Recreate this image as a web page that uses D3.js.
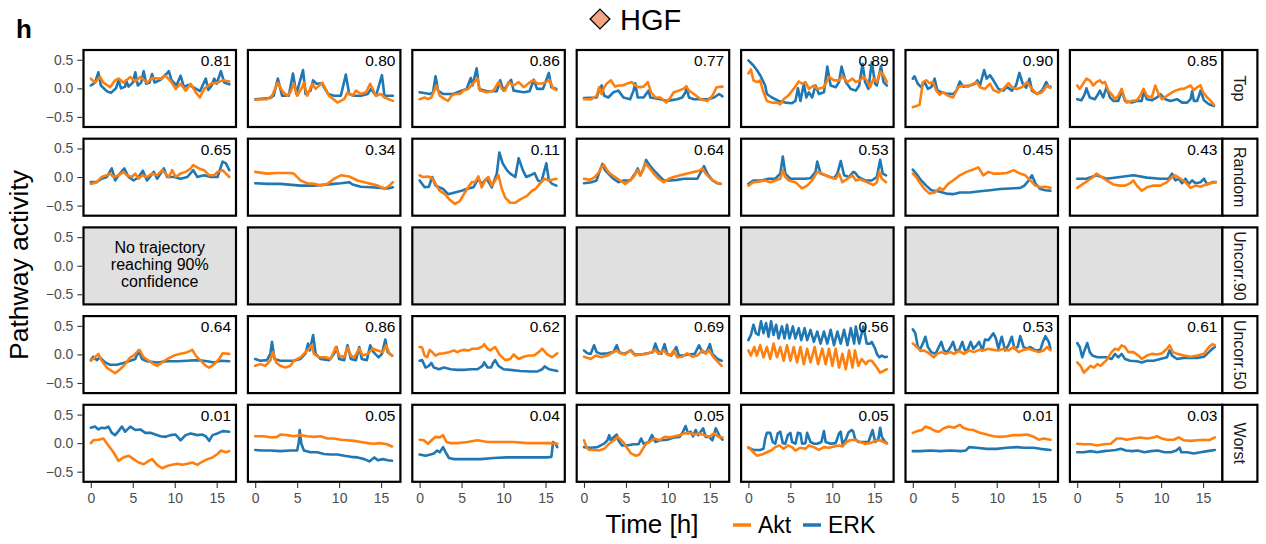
<!DOCTYPE html>
<html><head><meta charset="utf-8">
<script src="https://cdn.jsdelivr.net/npm/d3@7"></script>
<style>body{margin:0;background:#fff}</style>
</head><body><svg id="c" width="1266" height="544"></svg>
<script>
// ---------- data ----------
const rowLabels = ["Top","Random","Uncorr.90","Uncorr.50","Worst"];
const corrTop = ["0.81","0.80","0.86","0.77","0.89","0.90","0.85"];
const corrRandom = ["0.65","0.34","0.11","0.64","0.53","0.45","0.43"];
const corrUncorr50 = ["0.64","0.86","0.62","0.69","0.56","0.53","0.61"];
const corrWorst = ["0.01","0.05","0.04","0.05","0.05","0.01","0.03"];
const xTicks = [0,5,10,15];
const yTicks = [-0.5,0,0.5];
const emptyNote = ["No trajectory","reaching 90%","confidence"];

// [time (h), activity]
const top_erk = [
 [[0,0.05],[0.5,0.1],[0.9,0.28],[1.2,0.05],[1.9,-0.05],[2.4,-0.08],[3.0,0.0],[3.3,0.14],[3.6,0.0],[4.1,0.03],[4.2,0.14],[4.5,0.03],[5.0,0.1],[5.3,0.28],[5.6,0.05],[6.0,0.1],[6.3,0.3],[6.6,0.08],[7.0,0.1],[7.3,0.25],[7.6,0.1],[8.3,0.15],[9.0,0.25],[9.3,0.3],[9.6,0.15],[10.2,0.05],[10.7,0.22],[11.1,0.02],[11.6,0.06],[12.2,0.02],[13.0,-0.05],[13.7,0.17],[14.0,-0.03],[14.4,0.05],[14.7,0.17],[15.0,0.08],[15.5,0.3],[15.9,0.1],[16.5,0.07]],
 [[0,-0.19],[1.8,-0.17],[2.2,-0.13],[2.7,0.17],[3.2,-0.13],[4.0,-0.13],[4.5,0.26],[4.9,-0.1],[5.7,0.32],[6.0,-0.1],[6.6,-0.04],[6.9,0.14],[7.3,0.08],[7.9,0.09],[8.7,-0.1],[9.4,-0.13],[10.2,-0.13],[10.8,0.24],[11.2,-0.1],[11.8,-0.13],[12.6,-0.13],[13.4,-0.1],[13.8,-0.01],[14.4,-0.13],[15.1,0.23],[15.4,-0.13],[16.4,-0.13]],
 [[0,-0.07],[1.2,-0.1],[1.6,-0.07],[1.9,0.21],[2.2,-0.04],[2.8,-0.1],[4.0,-0.1],[5.0,-0.04],[5.6,-0.01],[6.1,0.18],[6.3,0.05],[6.8,0.35],[7.1,-0.01],[8.0,-0.05],[9.2,-0.05],[9.6,0.14],[10.0,-0.04],[10.9,0.15],[11.2,-0.04],[12.4,-0.07],[13.1,-0.05],[13.6,0.15],[14.0,-0.01],[14.7,-0.01],[15.4,0.27],[15.7,0.02],[16.3,-0.01]],
 [[0,-0.17],[1.5,-0.16],[1.8,-0.04],[2.1,0.05],[2.4,-0.13],[2.9,-0.16],[3.5,-0.07],[4.1,-0.04],[4.7,-0.16],[5.5,-0.19],[5.9,-0.04],[6.1,0.09],[6.4,-0.16],[7.1,-0.16],[7.7,-0.04],[7.9,-0.16],[9.1,-0.19],[9.9,-0.22],[11.1,-0.19],[11.7,-0.16],[12.1,-0.07],[12.2,0.03],[12.5,-0.16],[13.1,-0.19],[13.9,-0.19],[14.7,-0.19],[15.5,-0.16],[16.1,-0.1],[16.5,-0.14]],
 [[0,0.49],[0.6,0.4],[1.0,0.32],[1.4,0.23],[1.6,0.17],[2.0,0.05],[2.2,-0.1],[2.8,-0.16],[3.6,-0.22],[4.4,-0.25],[5.2,-0.26],[5.6,-0.22],[5.9,0.0],[6.2,-0.22],[6.6,0.08],[6.9,-0.16],[7.2,-0.07],[7.6,-0.16],[8.0,0.05],[8.4,-0.1],[9.0,-0.07],[9.4,0.38],[9.8,0.05],[10.4,0.02],[10.8,0.11],[11.1,0.38],[11.6,0.11],[12.2,-0.01],[12.8,-0.04],[13.2,0.05],[13.6,0.43],[13.9,0.11],[14.3,-0.01],[14.7,0.46],[15.1,0.08],[15.3,0.05],[15.8,0.39],[16.1,0.11],[16.5,0.05]],
 [[0,0.17],[0.2,0.21],[0.6,0.08],[1.0,0.02],[1.4,0.11],[1.8,-0.01],[2.2,0.02],[2.6,0.17],[2.9,-0.03],[3.4,-0.07],[4.0,-0.09],[4.8,-0.1],[5.2,-0.04],[5.6,0.12],[6.0,0.03],[6.8,0.05],[7.4,0.08],[7.7,0.14],[8.0,0.05],[8.5,0.32],[8.8,0.17],[9.2,0.23],[9.6,0.14],[10.2,-0.01],[10.8,-0.04],[11.2,0.03],[11.8,-0.04],[12.3,0.05],[12.7,0.27],[13.1,0.08],[13.5,0.01],[13.9,0.17],[14.2,-0.04],[14.8,-0.1],[15.4,-0.04],[15.9,0.11],[16.2,0.02],[16.4,0.03]],
 [[0,-0.19],[0.5,-0.21],[0.9,-0.1],[1.1,0.0],[1.5,-0.16],[2.1,-0.19],[2.5,-0.1],[2.7,-0.04],[3.1,-0.16],[3.5,0.02],[3.9,-0.16],[4.3,-0.22],[4.9,-0.22],[5.3,-0.04],[5.7,-0.22],[6.5,-0.25],[7.1,-0.22],[7.7,-0.22],[7.9,-0.05],[8.3,-0.19],[8.9,-0.21],[9.5,-0.16],[9.9,-0.1],[10.5,-0.19],[11.1,-0.22],[11.9,-0.19],[12.5,-0.25],[13.1,-0.25],[13.5,-0.19],[13.7,-0.05],[13.9,-0.22],[14.3,-0.22],[14.7,-0.04],[15.1,-0.21],[15.7,-0.28],[16.3,-0.31]]
];
const top_akt = [
 [[0,0.17],[0.5,0.1],[1.1,0.2],[1.5,0.1],[2.3,0.02],[2.9,0.14],[3.3,0.17],[3.9,0.1],[4.7,0.2],[5.3,0.12],[5.9,0.2],[6.7,0.1],[7.3,0.18],[8.3,0.17],[8.9,0.22],[9.5,0.13],[10.1,-0.01],[10.7,0.08],[11.3,-0.04],[11.9,0.08],[12.5,-0.07],[13.0,-0.16],[13.5,-0.01],[14.3,0.08],[15.1,0.1],[15.7,0.14],[16.5,0.12]],
 [[0,-0.2],[1.4,-0.19],[2.0,-0.13],[2.4,0.0],[2.7,0.1],[3.2,-0.04],[3.8,-0.13],[4.2,-0.07],[4.6,0.08],[5.0,-0.13],[5.6,0.02],[5.8,0.1],[6.2,-0.13],[6.8,0.08],[7.2,-0.01],[8.0,0.1],[8.8,-0.13],[9.8,-0.25],[10.6,-0.19],[11.0,-0.07],[11.6,-0.13],[12.0,-0.04],[12.6,-0.1],[13.2,-0.07],[13.7,0.08],[14.4,-0.13],[15.0,-0.1],[15.4,-0.16],[16.4,-0.22]],
 [[0,-0.19],[0.6,-0.16],[1.0,-0.19],[1.4,-0.16],[2.0,0.05],[2.4,-0.13],[3.0,-0.19],[3.4,-0.22],[3.8,-0.13],[4.2,-0.1],[4.8,-0.1],[5.2,-0.04],[5.8,-0.01],[6.4,0.09],[6.9,0.17],[7.2,-0.04],[8.0,-0.07],[8.8,-0.04],[9.4,0.11],[9.8,-0.01],[10.2,-0.04],[10.6,0.11],[11.2,0.05],[11.8,0.11],[12.4,0.02],[13.0,0.09],[13.5,0.14],[14.1,0.08],[14.7,0.09],[15.5,0.14],[15.9,0.0],[16.3,-0.03]],
 [[0,-0.19],[0.9,-0.19],[1.5,-0.13],[1.8,0.02],[2.1,-0.1],[2.4,0.02],[2.7,0.08],[3.2,0.14],[3.7,0.03],[4.1,0.05],[4.6,0.05],[5.1,0.08],[5.7,0.11],[6.1,0.05],[6.5,0.02],[7.1,0.03],[7.6,0.11],[8.0,-0.07],[8.5,-0.16],[9.1,-0.16],[9.8,-0.25],[10.3,-0.16],[10.7,-0.07],[11.3,-0.04],[11.8,-0.01],[12.2,0.03],[12.5,-0.04],[13.1,-0.1],[13.9,-0.19],[14.7,-0.22],[15.3,-0.13],[15.8,0.02],[16.5,0.03]],
 [[0,0.26],[0.3,0.33],[0.6,0.14],[1.0,0.11],[1.4,0.14],[1.8,-0.07],[2.2,-0.22],[2.8,-0.25],[3.4,-0.25],[3.8,-0.28],[4.2,-0.19],[4.8,-0.12],[5.4,-0.01],[6.0,0.12],[6.4,0.08],[6.8,0.11],[7.2,-0.01],[7.8,0.05],[8.2,-0.01],[9.0,0.02],[9.6,0.2],[10.2,0.14],[10.8,0.14],[11.2,0.21],[11.8,0.11],[12.4,0.17],[12.8,0.11],[13.3,0.14],[13.7,0.2],[14.1,0.14],[14.5,0.02],[14.9,0.17],[15.3,0.11],[15.7,0.29],[16.1,0.23],[16.5,0.11]],
 [[0,-0.33],[0.4,-0.31],[0.8,-0.29],[1.0,-0.1],[1.2,0.11],[1.6,0.14],[2.0,0.09],[2.4,0.11],[2.8,-0.04],[3.2,-0.11],[3.6,-0.07],[4.2,-0.13],[4.8,-0.16],[5.4,0.02],[6.0,0.05],[6.6,0.03],[7.2,0.08],[7.6,0.11],[8.0,0.02],[8.6,-0.01],[9.2,0.08],[9.6,-0.03],[10.2,-0.07],[10.8,-0.01],[11.4,0.09],[11.8,0.02],[12.4,-0.01],[13.0,0.02],[13.6,0.11],[14.2,-0.01],[14.8,-0.1],[15.4,-0.07],[16.0,0.05],[16.4,0.01]],
 [[0,0.05],[0.3,-0.01],[0.7,0.08],[1.1,0.17],[1.5,0.14],[1.9,0.05],[2.3,0.11],[2.7,0.14],[3.0,0.09],[3.3,0.11],[3.7,-0.04],[4.1,-0.1],[4.5,-0.19],[4.9,-0.13],[5.3,-0.01],[5.6,-0.16],[5.9,-0.25],[6.5,-0.22],[7.1,-0.21],[7.5,-0.13],[7.9,-0.01],[8.3,-0.13],[8.9,-0.16],[9.3,0.05],[9.7,-0.1],[10.1,-0.19],[10.7,-0.13],[11.3,-0.07],[11.7,-0.04],[12.3,-0.01],[12.7,-0.01],[13.1,0.02],[13.5,0.05],[13.9,-0.03],[14.3,0.02],[14.7,0.05],[15.0,-0.07],[15.5,-0.16],[15.9,-0.22],[16.3,-0.29]]
];
const random_erk = [
 [[0,-0.09],[0.7,-0.09],[1.3,-0.03],[1.9,0.0],[2.5,0.15],[2.9,-0.06],[3.3,0.03],[4.0,0.15],[4.5,0.0],[5.1,-0.06],[5.7,0.0],[6.2,0.11],[6.7,-0.06],[7.5,0.09],[7.9,-0.03],[8.7,0.15],[9.1,0.0],[9.9,0.0],[10.7,-0.03],[11.5,0.0],[12.2,0.12],[12.7,0.0],[13.5,0.03],[14.3,0.0],[15.1,0.0],[15.7,0.27],[16.1,0.24],[16.4,0.15],[16.5,0.12]],
 [[0,-0.11],[1.5,-0.12],[3.0,-0.12],[5.4,-0.15],[7.0,-0.15],[9.4,-0.12],[10.2,-0.11],[11.2,-0.09],[11.6,-0.13],[12.6,-0.17],[13.8,-0.18],[15.0,-0.19],[15.8,-0.2],[16.4,-0.18]],
 [[0,-0.06],[0.6,-0.18],[1.1,-0.17],[1.5,0.0],[1.9,-0.15],[2.8,-0.21],[3.4,-0.3],[4.2,-0.27],[5.0,-0.24],[5.6,-0.21],[6.4,-0.18],[7.0,-0.03],[7.4,-0.12],[8.0,-0.03],[8.6,-0.18],[9.2,0.06],[9.5,0.43],[9.9,0.24],[10.4,0.12],[10.8,0.06],[11.4,0.0],[11.8,0.33],[12.3,0.12],[12.7,0.0],[13.2,0.03],[13.7,0.07],[14.1,-0.06],[14.5,-0.09],[15.1,0.24],[15.4,-0.06],[15.8,-0.12],[16.3,-0.15]],
 [[0,-0.11],[0.9,-0.09],[1.5,-0.06],[1.9,0.12],[2.2,0.23],[2.5,0.12],[2.9,0.06],[3.5,-0.03],[4.1,-0.09],[4.7,-0.06],[5.5,-0.06],[6.1,0.06],[6.4,0.15],[6.7,0.03],[7.1,0.15],[7.4,0.3],[7.8,0.21],[8.3,0.12],[8.9,0.03],[9.5,-0.06],[10.3,-0.06],[11.1,-0.05],[11.9,-0.03],[12.7,-0.03],[13.5,-0.03],[14.3,0.19],[14.7,0.06],[15.3,-0.06],[15.9,-0.11],[16.3,-0.12]],
 [[0,-0.12],[0.6,-0.06],[1.6,-0.06],[2.4,-0.03],[3.2,-0.03],[3.8,0.06],[4.1,0.36],[4.4,0.06],[5.0,-0.03],[5.8,-0.03],[6.6,-0.03],[7.4,-0.02],[8.0,0.09],[8.2,0.27],[8.6,0.06],[9.4,0.02],[10.2,-0.02],[10.6,0.06],[11.0,0.28],[11.4,0.03],[12.0,0.0],[12.5,0.09],[12.7,0.08],[13.1,0.0],[13.9,-0.06],[14.7,-0.06],[15.3,0.0],[15.7,0.3],[16.0,0.06],[16.4,0.03]],
 [[0,0.13],[0.4,0.06],[1.0,-0.06],[1.6,-0.15],[2.2,-0.23],[3.0,-0.25],[4.0,-0.29],[4.8,-0.3],[5.6,-0.27],[6.8,-0.27],[8.0,-0.25],[9.2,-0.23],[10.4,-0.21],[11.6,-0.2],[12.8,-0.19],[13.3,-0.15],[13.8,-0.06],[14.2,0.03],[14.6,-0.11],[15.2,-0.21],[15.8,-0.23],[16.4,-0.24]],
 [[0,-0.03],[1.1,-0.03],[2.3,0.03],[3.5,-0.03],[5.1,0.0],[6.7,0.03],[8.3,-0.01],[9.9,-0.03],[10.9,-0.03],[11.3,0.06],[11.7,-0.06],[12.1,-0.03],[12.5,-0.11],[12.9,-0.03],[13.3,-0.12],[13.7,-0.06],[14.1,-0.11],[14.7,-0.09],[15.1,-0.03],[15.5,-0.13],[16.1,-0.09],[16.5,-0.09]]
];
const random_akt = [
 [[0,-0.12],[0.7,-0.09],[1.3,0.0],[1.9,0.03],[2.3,0.06],[2.7,0.0],[3.3,0.03],[3.9,0.09],[4.3,0.03],[4.9,0.0],[5.3,0.06],[5.7,-0.03],[6.1,0.03],[6.7,0.0],[7.3,0.06],[7.9,0.03],[8.5,0.12],[8.9,0.06],[9.3,0.0],[9.7,0.12],[10.1,0.0],[10.7,0.06],[11.3,0.09],[11.9,0.15],[12.2,0.21],[12.9,0.15],[13.5,0.12],[14.1,0.03],[14.7,0.03],[15.1,0.09],[15.7,0.12],[16.1,0.06],[16.5,0.0]],
 [[0,0.09],[1.4,0.06],[2.6,0.07],[4.2,0.07],[4.6,0.06],[5.4,-0.06],[6.2,-0.11],[7.0,-0.12],[7.8,-0.15],[8.6,-0.12],[9.4,-0.03],[10.2,0.03],[11.2,0.01],[12.2,-0.06],[13.0,-0.09],[13.8,-0.12],[14.6,-0.15],[15.4,-0.21],[16.0,-0.15],[16.4,-0.09]],
 [[0,0.03],[0.4,0.0],[1.0,0.01],[1.6,-0.03],[2.0,-0.15],[2.4,-0.24],[3.0,-0.3],[3.6,-0.4],[4.2,-0.47],[4.8,-0.42],[5.4,-0.27],[5.8,-0.18],[6.2,-0.09],[6.6,-0.09],[7.0,0.01],[7.4,-0.18],[7.8,-0.06],[8.2,0.0],[8.6,-0.15],[9.0,-0.06],[9.4,0.03],[9.8,-0.21],[10.2,-0.36],[10.8,-0.45],[11.4,-0.45],[12.0,-0.39],[12.8,-0.33],[13.4,-0.24],[13.8,-0.21],[14.3,-0.12],[14.9,-0.03],[15.4,-0.06],[16.3,-0.03]],
 [[0,-0.03],[0.7,-0.05],[1.3,0.0],[1.8,0.09],[2.1,0.18],[2.4,0.21],[2.7,0.13],[3.1,0.06],[3.7,0.0],[4.3,-0.06],[4.9,-0.12],[5.5,-0.06],[5.9,0.0],[6.4,0.12],[6.7,0.03],[7.0,0.12],[7.3,0.24],[7.7,0.18],[8.3,0.06],[8.9,-0.03],[9.5,-0.09],[10.1,-0.03],[10.7,0.0],[11.5,0.03],[12.3,0.06],[13.1,0.09],[13.7,0.11],[14.1,0.15],[14.5,0.06],[15.1,-0.03],[15.7,-0.09],[16.3,-0.12]],
 [[0,-0.15],[0.6,-0.09],[1.2,-0.08],[2.0,-0.06],[2.6,-0.09],[3.2,-0.06],[3.8,-0.03],[4.1,0.12],[4.4,0.0],[4.8,-0.06],[5.6,-0.09],[6.4,-0.2],[7.0,-0.15],[7.6,-0.06],[8.2,0.09],[8.8,0.06],[9.6,0.0],[10.4,-0.03],[10.8,0.06],[11.2,-0.09],[11.8,-0.03],[12.4,0.03],[12.8,-0.06],[13.3,-0.04],[14.1,-0.09],[14.9,-0.14],[15.3,-0.09],[15.6,0.09],[15.9,-0.03],[16.4,-0.09]],
 [[0,0.06],[0.4,0.0],[0.8,-0.09],[1.4,-0.21],[2.0,-0.29],[2.6,-0.27],[3.2,-0.19],[3.6,-0.23],[4.2,-0.12],[4.8,-0.06],[5.6,0.03],[6.4,0.09],[7.2,0.13],[7.8,0.17],[8.4,0.03],[9.0,0.09],[9.6,0.06],[10.4,0.06],[11.2,0.07],[12.0,0.12],[12.8,0.06],[13.4,0.03],[14.0,-0.06],[14.6,-0.15],[15.2,-0.18],[15.8,-0.17],[16.4,-0.19]],
 [[0,-0.19],[0.7,-0.12],[1.3,-0.06],[1.9,0.0],[2.3,0.06],[2.9,0.0],[3.5,-0.06],[4.3,-0.13],[5.1,-0.15],[5.7,-0.15],[6.3,-0.11],[6.7,-0.06],[7.1,-0.15],[7.7,-0.24],[8.3,-0.18],[9.1,-0.15],[9.9,-0.15],[10.7,-0.09],[11.3,0.0],[11.7,0.03],[12.3,-0.03],[12.9,-0.09],[13.5,-0.19],[14.1,-0.15],[14.7,-0.17],[15.5,-0.12],[16.5,-0.09]]
];
const unc50_erk = [
 [[0,-0.1],[0.3,-0.04],[0.7,-0.1],[1.1,-0.05],[1.7,-0.14],[2.3,-0.18],[3.1,-0.18],[3.9,-0.15],[4.7,-0.11],[5.3,-0.08],[5.7,0.07],[6.1,-0.08],[6.7,-0.12],[7.9,-0.14],[9.1,-0.12],[10.3,-0.12],[11.5,-0.11],[12.7,-0.1],[13.9,-0.12],[14.7,-0.14],[15.5,-0.11],[16.5,-0.12]],
 [[0,-0.08],[0.6,-0.11],[1.4,-0.1],[1.8,0.01],[2.0,0.22],[2.3,-0.08],[3.0,-0.11],[3.8,-0.11],[4.6,-0.11],[5.4,-0.08],[6.0,0.02],[6.3,0.19],[6.5,0.07],[6.9,0.34],[7.2,0.01],[7.8,-0.08],[8.8,-0.1],[9.4,0.01],[9.7,0.13],[10.0,-0.08],[10.6,-0.1],[11.0,0.16],[11.4,-0.08],[12.0,-0.1],[12.4,0.13],[12.7,-0.08],[13.3,-0.1],[13.7,0.16],[14.1,0.04],[14.7,-0.05],[15.1,0.01],[15.5,0.26],[15.8,0.04],[16.3,-0.02]],
 [[0,-0.11],[0.3,-0.1],[0.7,-0.23],[1.1,-0.2],[1.4,-0.15],[1.7,-0.23],[2.3,-0.26],[2.9,-0.23],[3.7,-0.26],[4.5,-0.27],[5.3,-0.27],[6.1,-0.26],[6.9,-0.26],[7.5,-0.2],[7.7,-0.14],[8.1,-0.23],[8.5,-0.23],[8.8,-0.14],[9.0,-0.1],[9.4,-0.2],[10.0,-0.26],[10.8,-0.27],[12.0,-0.29],[13.2,-0.3],[14.0,-0.3],[14.6,-0.26],[14.9,-0.21],[15.4,-0.26],[16.4,-0.29]],
 [[0,0.07],[0.4,0.02],[0.8,0.01],[1.2,0.16],[1.5,0.04],[2.0,0.01],[2.8,0.02],[3.5,0.04],[3.9,0.16],[4.2,0.04],[4.8,0.01],[5.6,0.07],[6.0,0.0],[6.8,0.0],[7.6,0.02],[8.2,0.04],[8.5,0.19],[8.8,0.07],[9.2,0.01],[9.6,0.18],[9.9,0.01],[10.4,-0.02],[11.0,0.13],[11.3,-0.02],[11.8,-0.02],[12.4,0.0],[13.2,0.01],[13.7,0.16],[14.1,0.04],[14.6,0.04],[15.0,0.18],[15.3,0.01],[15.9,-0.08],[16.4,-0.11]],
 [[0,0.25],[0.3,0.34],[0.6,0.52],[0.9,0.37],[1.2,0.34],[1.5,0.58],[1.8,0.37],[2.1,0.55],[2.4,0.31],[2.7,0.58],[3.0,0.34],[3.3,0.52],[3.6,0.28],[4.0,0.49],[4.3,0.28],[4.6,0.52],[4.9,0.28],[5.3,0.49],[5.6,0.28],[6.0,0.46],[6.3,0.25],[6.7,0.46],[7.0,0.25],[7.4,0.43],[7.8,0.22],[8.2,0.4],[8.6,0.19],[9.0,0.4],[9.4,0.19],[9.8,0.43],[10.2,0.16],[10.6,0.4],[11.0,0.19],[11.4,0.43],[11.8,0.16],[12.2,0.46],[12.6,0.19],[12.8,0.49],[13.2,0.19],[13.7,0.49],[14.1,0.19],[14.5,0.19],[14.7,0.22],[15.1,0.1],[15.3,0.01],[15.6,-0.05],[15.9,-0.02],[16.3,-0.05],[16.5,-0.04]],
 [[0,0.44],[0.3,0.37],[0.6,0.13],[0.9,0.1],[1.2,0.19],[1.5,0.31],[1.8,0.13],[2.2,0.04],[2.7,0.01],[3.1,0.13],[3.4,0.22],[3.7,0.07],[4.1,0.04],[4.5,0.13],[4.8,0.22],[5.1,0.07],[5.5,0.07],[5.9,0.22],[6.2,0.07],[6.5,0.07],[6.9,0.22],[7.2,0.1],[7.6,0.16],[7.9,0.22],[8.3,0.07],[8.6,0.26],[9.0,0.25],[9.3,0.31],[9.6,0.37],[9.9,0.28],[10.2,0.1],[10.6,0.31],[11.0,0.07],[11.4,0.16],[11.8,0.31],[12.1,0.1],[12.5,0.13],[12.8,0.32],[13.2,0.13],[13.6,0.1],[14.0,0.13],[14.6,0.07],[15.2,0.08],[15.5,0.22],[15.8,0.32],[16.2,0.22],[16.4,0.1]],
 [[0,0.2],[0.3,0.13],[0.6,-0.05],[0.8,0.04],[1.2,0.2],[1.5,0.04],[1.8,-0.02],[2.4,-0.05],[2.9,-0.05],[3.5,-0.05],[4.1,-0.08],[4.5,0.01],[4.9,-0.05],[5.3,0.01],[5.7,-0.08],[6.3,-0.11],[7.1,-0.12],[7.7,-0.14],[8.3,-0.11],[9.1,-0.11],[9.9,-0.08],[10.7,-0.05],[11.0,0.07],[11.3,-0.02],[11.9,-0.08],[12.7,-0.06],[13.5,-0.06],[14.3,-0.06],[15.1,-0.04],[15.7,0.04],[16.1,0.1],[16.4,0.13]]
];
const unc50_akt = [
 [[0,-0.11],[0.5,-0.05],[0.9,0.01],[1.3,-0.11],[1.9,-0.23],[2.5,-0.29],[2.9,-0.33],[3.5,-0.26],[4.1,-0.17],[4.7,-0.05],[5.1,-0.02],[5.5,0.04],[5.8,0.08],[6.3,-0.05],[6.9,-0.11],[7.5,-0.17],[7.9,-0.2],[8.5,-0.14],[9.1,-0.08],[9.9,-0.02],[10.7,0.01],[11.5,0.04],[12.1,0.08],[12.5,-0.02],[13.1,-0.11],[13.7,-0.2],[14.1,-0.23],[14.7,-0.17],[15.3,-0.08],[15.7,0.02],[16.5,0.01]],
 [[0,-0.2],[0.6,-0.17],[1.2,-0.2],[1.8,-0.11],[2.1,0.04],[2.5,-0.14],[3.0,-0.2],[3.6,-0.23],[4.2,-0.2],[4.6,-0.11],[5.4,-0.05],[6.0,0.04],[6.4,0.1],[6.7,0.16],[7.0,0.01],[7.6,-0.05],[8.4,-0.05],[9.0,-0.08],[9.6,0.13],[10.0,-0.02],[10.6,-0.05],[11.0,0.12],[11.4,-0.02],[11.8,-0.05],[12.4,0.1],[12.8,-0.02],[13.4,0.01],[14.0,0.1],[14.6,0.07],[15.2,0.04],[15.6,0.16],[16.0,0.01],[16.3,-0.02]],
 [[0,0.13],[0.3,0.12],[0.6,-0.02],[0.9,-0.05],[1.2,0.08],[1.5,0.04],[1.9,-0.02],[2.3,0.01],[2.9,0.02],[3.5,0.04],[4.1,0.07],[4.5,0.04],[4.9,0.07],[5.3,0.08],[5.9,0.07],[6.3,0.1],[6.9,0.1],[7.5,0.14],[7.7,0.18],[8.1,0.1],[8.4,0.07],[9.0,0.13],[9.6,-0.02],[10.2,-0.1],[10.8,-0.08],[11.2,0.0],[11.8,-0.08],[12.4,-0.04],[13.0,-0.02],[13.6,-0.02],[14.2,0.04],[14.6,0.1],[15.2,0.0],[15.8,-0.05],[16.4,0.02]],
 [[0,-0.04],[0.8,-0.08],[1.4,-0.02],[2.0,-0.05],[2.8,-0.02],[3.5,0.04],[3.9,0.07],[4.3,0.02],[4.9,0.0],[5.5,0.07],[6.1,-0.02],[6.7,0.0],[7.5,0.01],[8.1,0.04],[8.5,0.08],[8.9,0.01],[9.5,0.07],[9.9,0.0],[10.3,-0.02],[10.7,0.07],[11.1,-0.05],[11.7,-0.04],[12.3,0.02],[12.9,-0.04],[13.5,-0.02],[14.1,0.07],[14.5,0.01],[14.9,0.08],[15.3,-0.02],[15.8,-0.11],[16.4,-0.2]],
 [[0,0.07],[0.3,-0.02],[0.7,0.13],[1.0,-0.02],[1.4,0.16],[1.8,-0.05],[2.2,0.13],[2.6,-0.08],[3.0,0.19],[3.4,-0.05],[3.8,0.13],[4.2,-0.11],[4.6,0.16],[5.0,-0.11],[5.4,0.13],[5.8,-0.14],[6.2,0.13],[6.6,-0.17],[7.0,0.1],[7.4,-0.14],[7.9,0.13],[8.3,-0.17],[8.8,0.1],[9.2,-0.17],[9.6,0.1],[10.0,-0.2],[10.4,0.1],[10.8,-0.23],[11.2,0.01],[11.6,-0.26],[12.0,0.07],[12.4,-0.23],[12.7,0.07],[13.1,-0.2],[13.5,-0.08],[14.0,-0.17],[14.3,-0.11],[14.7,-0.11],[15.0,-0.17],[15.3,-0.23],[15.7,-0.32],[16.1,-0.29],[16.5,-0.26]],
 [[0,0.19],[0.5,0.13],[0.9,0.06],[1.3,0.07],[1.7,0.04],[2.1,0.0],[2.5,-0.05],[2.9,0.01],[3.4,0.04],[3.9,0.01],[4.5,0.04],[4.9,0.01],[5.5,0.06],[6.1,0.01],[6.7,0.07],[7.3,0.04],[7.9,0.08],[8.4,0.07],[9.0,0.1],[9.6,0.08],[10.2,0.07],[10.8,0.1],[11.4,0.07],[12.0,0.13],[12.6,0.04],[13.2,0.08],[13.8,0.1],[14.4,0.07],[15.0,0.04],[15.6,0.07],[16.0,0.13],[16.4,0.07]],
 [[0,-0.14],[0.4,-0.2],[0.8,-0.32],[1.2,-0.26],[1.6,-0.2],[2.0,-0.23],[2.4,-0.17],[2.8,-0.2],[3.2,-0.14],[3.5,-0.1],[3.7,-0.05],[4.1,0.04],[4.5,0.1],[4.9,0.08],[5.3,0.16],[5.7,0.13],[6.1,0.04],[6.7,0.04],[7.3,-0.02],[7.7,-0.08],[8.3,-0.02],[8.9,0.01],[9.5,0.0],[10.1,0.02],[10.7,0.1],[11.0,0.16],[11.4,0.04],[11.9,0.01],[12.7,-0.02],[13.5,-0.04],[14.3,-0.02],[15.1,0.01],[15.7,0.13],[16.1,0.18],[16.4,0.16]]
];
const worst_erk = [
 [[0,0.27],[0.5,0.29],[0.9,0.24],[1.3,0.27],[1.7,0.26],[2.1,0.29],[2.5,0.18],[2.9,0.14],[3.3,0.21],[3.7,0.29],[4.1,0.2],[4.7,0.29],[5.3,0.23],[5.9,0.24],[6.5,0.18],[7.1,0.18],[7.7,0.15],[8.3,0.12],[8.9,0.11],[9.5,0.14],[10.1,0.15],[10.7,0.05],[11.3,0.14],[11.9,0.17],[12.7,0.14],[13.3,0.15],[13.7,0.12],[14.1,0.04],[14.5,0.14],[15.1,0.17],[15.7,0.21],[16.5,0.2]],
 [[0,-0.12],[0.8,-0.13],[1.8,-0.13],[3.0,-0.14],[4.2,-0.13],[5.0,-0.13],[5.2,0.02],[5.3,0.23],[5.5,-0.01],[5.8,-0.13],[6.6,-0.16],[7.4,-0.16],[8.2,-0.19],[9.0,-0.2],[9.8,-0.2],[10.6,-0.22],[11.4,-0.24],[12.2,-0.25],[13.0,-0.28],[13.6,-0.32],[14.2,-0.25],[14.6,-0.3],[15.2,-0.28],[15.8,-0.3],[16.3,-0.31]],
 [[0,-0.2],[0.7,-0.22],[1.3,-0.2],[1.7,-0.18],[2.1,-0.13],[2.4,-0.16],[2.8,-0.07],[3.1,-0.16],[3.5,-0.26],[4.1,-0.28],[5.7,-0.28],[7.3,-0.28],[8.8,-0.26],[10.4,-0.25],[12.0,-0.25],[13.6,-0.25],[15.2,-0.25],[15.7,-0.24],[15.9,0.02],[16.2,-0.01],[16.4,-0.07]],
 [[0,-0.07],[0.8,-0.08],[1.6,-0.07],[2.4,-0.01],[2.8,0.05],[3.0,0.14],[3.2,0.05],[3.5,0.1],[3.9,0.15],[4.1,0.05],[4.5,-0.04],[5.1,-0.04],[5.9,-0.02],[6.5,-0.02],[6.8,0.08],[7.1,-0.01],[7.7,0.02],[8.1,0.14],[8.5,0.02],[9.1,0.05],[9.9,0.06],[10.7,0.1],[11.4,0.11],[11.8,0.2],[12.1,0.3],[12.4,0.17],[12.7,0.2],[13.0,0.12],[13.3,0.23],[13.6,0.14],[13.9,0.2],[14.2,0.26],[14.5,0.11],[14.9,0.11],[15.3,0.05],[15.7,0.26],[15.9,0.2],[16.2,0.11],[16.5,0.06]],
 [[0,-0.08],[0.6,-0.12],[1.4,-0.12],[1.8,-0.1],[2.0,0.08],[2.2,0.18],[2.6,0.18],[2.9,0.02],[3.2,-0.01],[3.5,0.17],[3.8,0.2],[4.1,0.0],[4.4,-0.01],[4.7,0.14],[5.0,0.18],[5.2,0.02],[5.6,-0.01],[5.9,0.18],[6.2,0.17],[6.4,-0.01],[6.8,0.0],[7.0,0.18],[7.4,0.02],[7.8,-0.01],[8.2,-0.01],[8.7,0.02],[9.0,0.21],[9.2,0.02],[9.8,-0.01],[10.4,0.0],[10.8,0.17],[11.0,0.2],[11.2,-0.01],[11.6,0.06],[11.9,0.18],[12.3,0.23],[12.5,0.2],[12.7,0.08],[13.1,0.02],[13.7,0.02],[14.3,0.02],[14.8,0.23],[15.1,0.02],[15.5,0.08],[15.7,0.27],[15.9,0.11],[16.3,0.02],[16.5,0.0]],
 [[0,-0.14],[0.9,-0.14],[2.1,-0.13],[3.3,-0.14],[4.5,-0.13],[5.7,-0.14],[6.3,-0.13],[6.7,-0.07],[7.6,-0.08],[8.8,-0.1],[10.0,-0.1],[11.2,-0.08],[12.4,-0.07],[13.2,-0.08],[14.4,-0.08],[15.2,-0.1],[16.4,-0.12]],
 [[0,-0.16],[0.8,-0.16],[1.6,-0.14],[2.4,-0.16],[3.2,-0.14],[4.0,-0.13],[4.6,-0.12],[5.2,-0.1],[5.8,-0.13],[6.6,-0.14],[7.2,-0.13],[8.0,-0.16],[8.8,-0.14],[9.6,-0.13],[10.4,-0.16],[11.2,-0.16],[11.8,-0.13],[12.2,-0.08],[12.4,-0.16],[13.1,-0.16],[13.9,-0.18],[14.7,-0.16],[15.5,-0.14],[16.4,-0.12]]
];
const worst_akt = [
 [[0,0.0],[0.3,0.05],[0.9,0.06],[1.5,0.08],[2.1,-0.04],[2.7,-0.16],[3.3,-0.31],[3.9,-0.25],[4.5,-0.22],[5.1,-0.28],[5.7,-0.34],[6.3,-0.37],[6.9,-0.31],[7.3,-0.28],[7.9,-0.38],[8.5,-0.44],[9.1,-0.4],[9.7,-0.38],[10.3,-0.36],[10.9,-0.38],[11.5,-0.36],[12.1,-0.34],[12.7,-0.38],[13.1,-0.34],[13.5,-0.31],[13.9,-0.28],[14.5,-0.25],[15.1,-0.19],[15.5,-0.13],[16.1,-0.16],[16.5,-0.14]],
 [[0,0.12],[1.0,0.12],[2.0,0.1],[2.6,0.11],[3.0,0.15],[3.8,0.14],[4.6,0.12],[5.4,0.14],[6.2,0.12],[7.0,0.11],[7.8,0.12],[8.6,0.08],[9.4,0.08],[10.2,0.06],[11.0,0.05],[11.8,0.04],[12.6,0.02],[13.4,0.0],[14.1,-0.01],[14.9,0.0],[15.7,-0.02],[16.3,-0.06]],
 [[0,0.06],[0.5,0.05],[1.0,-0.01],[1.5,0.06],[1.9,0.11],[2.4,0.1],[2.8,0.14],[3.2,0.02],[3.7,0.0],[4.5,0.0],[5.7,0.02],[6.9,0.05],[8.1,0.02],[9.6,0.02],[11.2,0.02],[12.8,0.0],[14.4,0.0],[15.6,0.0],[16.4,-0.01]],
 [[0,0.05],[0.3,-0.07],[0.6,-0.12],[1.2,-0.12],[1.8,-0.13],[2.4,-0.1],[3.0,-0.01],[3.6,0.05],[4.0,0.11],[4.4,0.06],[4.8,-0.01],[5.2,-0.1],[5.6,-0.18],[6.2,-0.22],[6.6,-0.2],[7.0,-0.1],[7.4,-0.01],[7.8,0.02],[8.4,0.08],[9.0,0.05],[9.6,0.11],[10.2,0.1],[10.8,0.12],[11.4,0.14],[11.9,0.17],[12.5,0.18],[13.1,0.15],[13.7,0.17],[14.3,0.14],[14.9,0.11],[15.5,0.17],[16.0,0.11],[16.5,0.1]],
 [[0,-0.07],[0.6,-0.16],[1.0,-0.22],[1.6,-0.2],[2.2,-0.16],[2.8,-0.12],[3.2,-0.07],[3.7,-0.04],[4.2,-0.1],[4.7,-0.04],[5.2,-0.07],[5.6,-0.13],[6.2,-0.08],[6.8,-0.1],[7.2,-0.04],[7.8,-0.07],[8.4,-0.12],[9.0,-0.07],[9.6,-0.08],[10.2,-0.06],[10.8,-0.04],[11.2,-0.06],[11.7,0.02],[12.1,0.05],[12.7,0.06],[13.3,0.02],[13.9,-0.01],[14.5,0.0],[15.1,0.04],[15.7,0.05],[16.1,0.02],[16.5,-0.01]],
 [[0,0.18],[0.5,0.21],[1.1,0.23],[1.5,0.29],[2.1,0.26],[2.7,0.21],[3.1,0.2],[3.7,0.26],[4.3,0.29],[4.9,0.27],[5.6,0.32],[6.0,0.27],[6.6,0.24],[7.2,0.23],[8.0,0.18],[8.8,0.15],[9.6,0.12],[10.4,0.11],[11.2,0.12],[12.0,0.14],[12.8,0.14],[13.6,0.15],[14.4,0.11],[15.0,0.06],[15.6,0.08],[16.4,0.06]],
 [[0,-0.01],[0.8,-0.02],[1.6,-0.02],[2.4,-0.04],[3.2,-0.02],[4.0,-0.01],[4.4,0.04],[4.7,0.08],[5.3,0.08],[5.9,0.06],[6.7,0.08],[7.5,0.1],[8.3,0.08],[9.1,0.1],[9.5,0.12],[10.1,0.08],[10.7,0.06],[11.5,0.06],[12.1,0.1],[12.7,0.05],[13.5,0.04],[14.3,0.05],[15.1,0.06],[15.7,0.05],[16.4,0.1]]
];

// ---------- assembly ----------
const rowsData = [
  {akt: top_akt, erk: top_erk, corr: corrTop},
  {akt: random_akt, erk: random_erk, corr: corrRandom},
  null,
  {akt: unc50_akt, erk: unc50_erk, corr: corrUncorr50},
  {akt: worst_akt, erk: worst_erk, corr: corrWorst}
];

const FONT = "'Liberation Sans', Arial, Helvetica, sans-serif";
const C_AKT = "#ff7f0e", C_ERK = "#1f77b4";
const PL = 83.5, PW = 152.5, CSTEP = 164.4;
const PT = 50, PH = 77, RSTEP = 88.7;
const STRIP_W = 35;

const svg = d3.select("#c");
svg.append("rect").attr("width",1266).attr("height",544).attr("fill","#fff");

const x = d3.scaleLinear().domain([-0.87, 17.3]).range([0, PW]);
const y = d3.scaleLinear().domain([-0.677, 0.671]).range([PH, 0]);
const line = d3.line().x(d => x(d[0])).y(d => y(d[1]));

const defs = svg.append("defs");
defs.append("clipPath").attr("id","pclip").append("rect")
  .attr("x",0).attr("y",0).attr("width",PW).attr("height",PH);

rowLabels.forEach((rl, r) => {
  const ty = PT + r*RSTEP;
  for (let c = 0; c < 7; c++) {
    const tx = PL + c*CSTEP;
    const g = svg.append("g").attr("transform", `translate(${tx},${ty})`);
    const rd = rowsData[r];
    g.append("rect").attr("width",PW).attr("height",PH)
      .attr("fill", rd ? "#fff" : "#e0e0e0");
    if (rd) {
      const pg = g.append("g").attr("clip-path","url(#pclip)");
      [[rd.erk[c], C_ERK], [rd.akt[c], C_AKT]].forEach(([ser, col]) => {
        pg.append("path").datum(ser).attr("d", line)
          .attr("fill","none").attr("stroke",col).attr("stroke-width",2.6)
          .attr("stroke-linejoin","round").attr("stroke-linecap","round");
      });
      g.append("text").attr("x",PW-5).attr("y",16).attr("text-anchor","end")
        .attr("font-family",FONT).attr("font-size",15.5).attr("fill","#000")
        .text(rd.corr[c]);
    } else if (c === 0) {
      emptyNote.forEach((s,i) => {
        g.append("text").attr("x",PW/2).attr("y",25.8 + i*17)
          .attr("text-anchor","middle").attr("font-family",FONT)
          .attr("font-size",16).attr("fill","#000").text(s);
      });
    }
    g.append("rect").attr("width",PW).attr("height",PH)
      .attr("fill","none").attr("stroke","#000").attr("stroke-width",2.2);

    if (c === 0) {
      const ya = g.append("g").attr("transform","translate(-1.1,0)")
        .call(d3.axisLeft(y).tickValues(yTicks).tickSize(5).tickPadding(4)
          .tickFormat(d3.format(".1f")));
      ya.select(".domain").remove();
      ya.selectAll("line").attr("stroke","#333").attr("stroke-width",1.1);
      ya.selectAll("text").attr("font-family",FONT).attr("font-size",14)
        .attr("fill","#4d4d4d");
    }
    if (r === 4) {
      const xa = g.append("g").attr("transform",`translate(0,${PH+1.1})`)
        .call(d3.axisBottom(x).tickValues(xTicks).tickSize(5).tickPadding(5));
      xa.select(".domain").remove();
      xa.selectAll("line").attr("stroke","#333").attr("stroke-width",1.1);
      xa.selectAll("text").attr("font-family",FONT).attr("font-size",14)
        .attr("fill","#4d4d4d");
    }
  }
  // strip
  const sx = PL + 6*CSTEP + PW;
  const sg = svg.append("g").attr("transform", `translate(${sx},${ty})`);
  sg.append("rect").attr("width",STRIP_W).attr("height",PH)
    .attr("fill","#fff").attr("stroke","#000").attr("stroke-width",2.2);
  sg.append("text").attr("transform",`translate(${STRIP_W/2},${PH/2}) rotate(90)`)
    .attr("text-anchor","middle").attr("dy","0.35em")
    .attr("font-family",FONT).attr("font-size",16).attr("fill","#1a1a1a").text(rl);
});

// panel tag
svg.append("text").attr("x",16).attr("y",38).attr("font-family",FONT)
  .attr("font-weight","bold").attr("font-size",26).text("h");

// title
const tg = svg.append("g");
tg.append("path").attr("d", d3.symbol().type(d3.symbolDiamond2).size(250)())
  .attr("transform","translate(600,19)")
  .attr("fill","#f4a582").attr("stroke","#000").attr("stroke-width",1.3);
tg.append("text").attr("x",620).attr("y",30).attr("font-family",FONT)
  .attr("font-size",29).attr("fill","#000").text("HGF");

// axis titles
svg.append("text").attr("transform","translate(27.5,265) rotate(-90)")
  .attr("text-anchor","middle").attr("font-family",FONT).attr("font-size",26.5)
  .text("Pathway activity");
svg.append("text").attr("x",652).attr("y",533).attr("text-anchor","middle")
  .attr("font-family",FONT).attr("font-size",26).text("Time [h]");

// legend
const legendItems = [{k:"Akt", c:C_AKT, x:733}, {k:"ERK", c:C_ERK, x:803}];
legendItems.forEach(it => {
  svg.append("line").attr("x1",it.x).attr("x2",it.x+18).attr("y1",525).attr("y2",525)
    .attr("stroke",it.c).attr("stroke-width",3.5);
  svg.append("text").attr("x",it.x+25).attr("y",533).attr("font-family",FONT)
    .attr("font-size",23).text(it.k);
});
</script></body></html>
